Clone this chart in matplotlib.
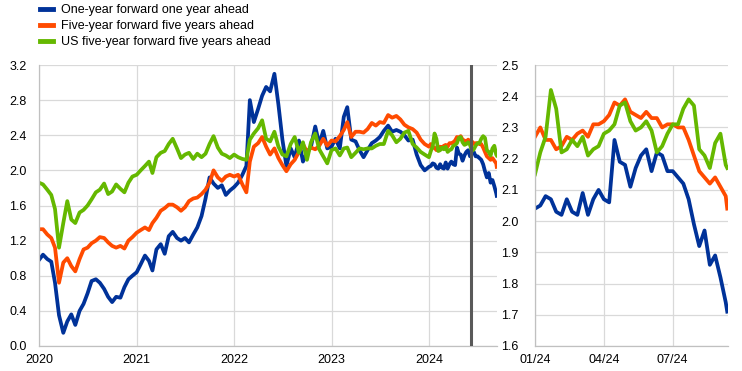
import matplotlib
matplotlib.use('Agg')
import matplotlib.pyplot as plt
from matplotlib.lines import Line2D
import pandas as pd

plt.rcParams['font.family'] = ['Liberation Sans', 'DejaVu Sans']

# ---------------- data ----------------
series_names = ["One-year forward one year ahead",
                "Five-year forward five years ahead",
                "US five-year forward five years ahead"]
colors = ["#003299", "#FF4B00", "#65B800"]

# semi-monthly readings 2020-2023 (1st and 16th of each month)
blue_2020_23 = [
    0.98, 1.04, 0.99, 0.96, 0.72, 0.35, 0.15, 0.28, 0.36, 0.24, 0.40, 0.48,
    0.60, 0.74, 0.76, 0.72, 0.65, 0.56, 0.50, 0.56, 0.55, 0.67, 0.76, 0.80,
    0.84, 0.93, 1.03, 0.97, 0.86, 1.10, 1.16, 1.05, 1.25, 1.30, 1.23, 1.20,
    1.23, 1.18, 1.27, 1.35, 1.48, 1.68, 1.92, 1.85, 1.80, 1.83, 1.72, 1.77,
    1.81, 1.86, 1.95, 2.05, 2.80, 2.55, 2.70, 2.85, 2.95, 2.90, 3.10, 2.75,
    2.35, 2.05, 2.25, 2.15, 2.34, 2.10, 2.20, 2.27, 2.50, 2.30, 2.45, 2.25,
    2.27, 2.36, 2.25, 2.61, 2.72, 2.35, 2.33, 2.23, 2.15, 2.23, 2.31, 2.34,
    2.38, 2.45, 2.51, 2.44, 2.46, 2.44, 2.40, 2.34, 2.35, 2.18, 2.06, 2.00]
orange_2020_23 = [
    1.33, 1.33, 1.27, 1.23, 1.12, 0.72, 0.95, 1.00, 0.91, 0.85, 0.99, 1.10,
    1.12, 1.17, 1.20, 1.24, 1.23, 1.18, 1.14, 1.12, 1.14, 1.11, 1.20, 1.24,
    1.29, 1.32, 1.35, 1.32, 1.40, 1.46, 1.54, 1.57, 1.61, 1.61, 1.58, 1.54,
    1.58, 1.65, 1.68, 1.69, 1.73, 1.78, 1.86, 2.00, 1.92, 1.88, 1.93, 1.95,
    1.93, 1.95, 1.84, 1.75, 2.10, 2.27, 2.31, 2.38, 2.27, 2.18, 2.25, 2.14,
    2.06, 1.99, 2.07, 2.12, 2.21, 2.30, 2.21, 2.26, 2.24, 2.28, 2.36, 2.28,
    2.34, 2.33, 2.39, 2.46, 2.55, 2.38, 2.44, 2.44, 2.43, 2.47, 2.54, 2.51,
    2.55, 2.54, 2.63, 2.60, 2.62, 2.58, 2.52, 2.49, 2.47, 2.43, 2.35, 2.30]
green_2020_23 = [
    1.86, 1.84, 1.78, 1.72, 1.56, 1.12, 1.40, 1.65, 1.44, 1.40, 1.52, 1.55,
    1.60, 1.67, 1.75, 1.78, 1.85, 1.73, 1.76, 1.84, 1.79, 1.75, 1.86, 1.93,
    1.95, 2.00, 2.05, 2.10, 1.97, 2.15, 2.20, 2.22, 2.30, 2.36, 2.25, 2.14,
    2.18, 2.20, 2.13, 2.19, 2.15, 2.19, 2.30, 2.39, 2.26, 2.19, 2.17, 2.14,
    2.18, 2.15, 2.13, 2.12, 2.35, 2.42, 2.48, 2.57, 2.36, 2.33, 2.44, 2.27,
    2.18, 2.16, 2.30, 2.38, 2.20, 2.32, 2.12, 2.32, 2.42, 2.24, 2.16, 2.08,
    2.23, 2.25, 2.17, 2.25, 2.26, 2.15, 2.20, 2.25, 2.24, 2.25, 2.25, 2.28,
    2.30, 2.30, 2.45, 2.40, 2.32, 2.36, 2.43, 2.45, 2.30, 2.26, 2.21, 2.18]

# weekly readings 2024 (days after 1 Jan 2024)
days_2024 = list(range(0, 253, 7)) + [254]
blue_2024 = [2.04, 2.05, 2.08, 2.07, 2.03, 2.02, 2.07, 2.03, 2.02, 2.09, 2.02, 2.07,
             2.10, 2.07, 2.06, 2.26, 2.19, 2.18, 2.11, 2.17, 2.21, 2.23, 2.16, 2.22,
             2.21, 2.16, 2.16, 2.14, 2.12, 2.07, 1.99, 1.92, 1.97, 1.86, 1.89, 1.82,
             1.74, 1.71]
orange_2024 = [2.27, 2.30, 2.26, 2.26, 2.23, 2.24, 2.27, 2.26, 2.28, 2.29, 2.27, 2.31,
               2.31, 2.32, 2.34, 2.38, 2.37, 2.39, 2.35, 2.34, 2.33, 2.35, 2.33, 2.33,
               2.30, 2.31, 2.31, 2.30, 2.30, 2.26, 2.21, 2.16, 2.14, 2.12, 2.14, 2.11,
               2.08, 2.04]
green_2024 = [2.15, 2.22, 2.27, 2.42, 2.36, 2.22, 2.23, 2.26, 2.24, 2.27, 2.21, 2.23,
              2.24, 2.28, 2.29, 2.31, 2.37, 2.38, 2.32, 2.29, 2.30, 2.32, 2.29, 2.22,
              2.24, 2.28, 2.31, 2.31, 2.36, 2.39, 2.37, 2.23, 2.21, 2.17, 2.25, 2.28,
              2.18, 2.17]

left_years = ["2020", "2021", "2022", "2023", "2024"]
right_ticks = ["2024-01-01", "2024-04-01", "2024-07-01"]
right_labels = ["01/24", "04/24", "07/24"]
left_yticks = [0.0, 0.4, 0.8, 1.2, 1.6, 2.0, 2.4, 2.8, 3.2]
right_yticks = [1.6, 1.7, 1.8, 1.9, 2.0, 2.1, 2.2, 2.3, 2.4, 2.5]
event_date = "2024-06-06"
end_date = "2024-09-12"

# ---------------- build ----------------
dates_a = [pd.Timestamp(y, m, d) for y in range(2020, 2024) for m in range(1, 13) for d in (1, 16)]
dates_b = [pd.Timestamp("2024-01-01") + pd.Timedelta(days=d) for d in days_2024]
dates_all = dates_a + dates_b
full = [blue_2020_23 + blue_2024, orange_2020_23 + orange_2024, green_2020_23 + green_2024]
recent = [blue_2024, orange_2024, green_2024]

fig = plt.figure(figsize=(7.42, 3.71), dpi=100)
ax1 = fig.add_axes([39/742, 25/371, 458/742, 281/371])
ax2 = fig.add_axes([535/742, 25/371, 193/742, 281/371])

lw = 2.7
for vals, c in zip(full, colors):
    ax1.plot(dates_all, vals, color=c, lw=lw, solid_joinstyle='round')
for vals, c in zip(recent, colors):
    ax2.plot(dates_b, vals, color=c, lw=lw, solid_joinstyle='round')

ax1.axvline(pd.Timestamp(event_date), color="#595959", lw=2.2, zorder=5)

for ax in (ax1, ax2):
    ax.grid(True, color="#d9d9d9", lw=0.9)
    ax.set_axisbelow(True)
    for s in ("top", "right"):
        ax.spines[s].set_visible(False)
    for s in ("left", "bottom"):
        ax.spines[s].set_color("#c0c0c0")
        ax.spines[s].set_linewidth(0.9)
    ax.tick_params(length=0, labelsize=9, colors="#000000")
    ax.tick_params(axis='x', pad=6)

ax1.set_xlim(pd.Timestamp("2020-01-01"), pd.Timestamp(end_date))
ax1.set_xticks([pd.Timestamp(y + "-01-01") for y in left_years])
ax1.set_xticklabels(left_years)
ax1.set_ylim(0, 3.2)
ax1.set_yticks(left_yticks)
ax1.set_yticklabels([f"{v:.1f}" for v in left_yticks])
ax1.tick_params(axis='y', pad=9)

ax2.set_xlim(pd.Timestamp("2024-01-01"), pd.Timestamp(end_date))
ax2.set_xticks([pd.Timestamp(t) for t in right_ticks])
ax2.set_xticklabels(right_labels)
ax2.set_ylim(1.6, 2.5)
ax2.set_yticks(right_yticks)
ax2.set_yticklabels([f"{v:.1f}" for v in right_yticks])
ax2.tick_params(axis='y', pad=12)

handles = [Line2D([], [], color=c, lw=3.5) for c in colors]
fig.legend(handles, series_names, loc="upper left", bbox_to_anchor=(40/742, 1 - 4/371),
           frameon=False, fontsize=9, handlelength=1.0, handletextpad=0.7,
           labelspacing=0.32, borderpad=0.0, borderaxespad=0.0)

fig.savefig("out.png", dpi=100)
